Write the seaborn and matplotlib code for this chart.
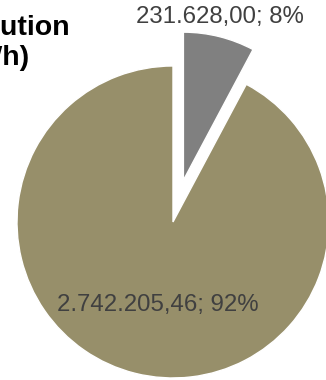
import seaborn as sns
import matplotlib.pyplot as plt

# values (kWh)
categories = ['Other', 'Main']
values = [231628.00, 2742205.46]
colors = ['#808080', '#978f6a']
explode = [0.276, 0]

sns.set_style('white')
plt.rcParams['font.family'] = ['Liberation Sans', 'DejaVu Sans']

fig = plt.figure(figsize=(3.26, 3.80), dpi=100)
ax = fig.add_axes([0, 0, 1, 1])

wedges, _ = ax.pie(values, colors=colors, explode=explode, startangle=90,
                   counterclock=False, radius=1)
# the exploded slice is drawn a bit smaller
wedges[0].set_radius(0.949)

ax.set_xlim(-1.109, 0.981)
ax.set_ylim(-1.013, 1.423)
ax.set_aspect('auto')
ax.axis('off')


def fmt(v):
    s = f'{v:,.2f}'
    return s.replace(',', 'X').replace('.', ',').replace('X', '.')


total = sum(values)
label_pos = [(0.298, 1.314), (-0.099, -0.535)]
for v, (x, y) in zip(values, label_pos):
    ax.text(x, y, f'{fmt(v)}; {v / total:.0%}', ha='center', va='center',
            fontsize=17.3, color='#404040')

# title is partly outside the figure, like in the original
fig.text(-10 / 326, 1 - 43 / 380, 'Distribution\n(kWh)', ha='center', va='center',
         fontsize=20.5, fontweight='bold', color='black', linespacing=1.2)

plt.savefig('out.png', dpi=100)
